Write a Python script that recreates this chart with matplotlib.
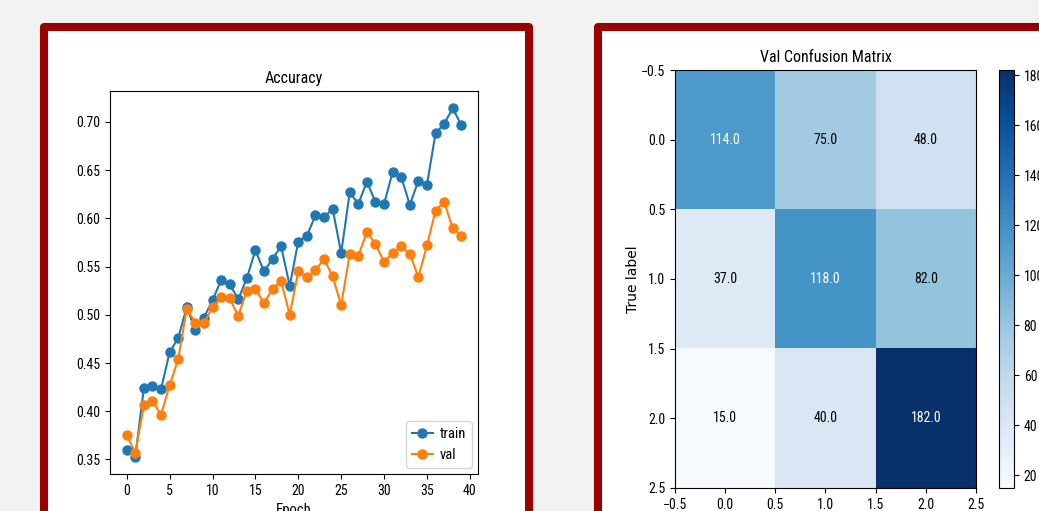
import matplotlib
matplotlib.use("Agg")
import matplotlib.pyplot as plt
from matplotlib import font_manager
from matplotlib.patches import Rectangle

# accuracy per epoch
epochs = list(range(40))
train_acc = [0.360, 0.353, 0.424, 0.426, 0.423, 0.461, 0.476, 0.508, 0.484, 0.497,
             0.515, 0.536, 0.532, 0.516, 0.538, 0.567, 0.545, 0.558, 0.571, 0.530,
             0.576, 0.582, 0.603, 0.601, 0.610, 0.564, 0.627, 0.615, 0.638, 0.617,
             0.615, 0.648, 0.643, 0.614, 0.639, 0.635, 0.688, 0.698, 0.714, 0.697]
val_acc = [0.375, 0.357, 0.406, 0.411, 0.396, 0.427, 0.454, 0.506, 0.492, 0.491,
           0.508, 0.518, 0.517, 0.499, 0.525, 0.527, 0.512, 0.527, 0.535, 0.500,
           0.545, 0.539, 0.546, 0.558, 0.540, 0.510, 0.563, 0.561, 0.586, 0.573,
           0.555, 0.564, 0.571, 0.563, 0.539, 0.572, 0.608, 0.617, 0.590, 0.582]
epoch_ticks = [0, 5, 10, 15, 20, 25, 30, 35, 40]

# validation confusion matrix (rows = true class)
conf_matrix = [[114, 75, 48],
               [37, 118, 82],
               [15, 40, 182]]
class_ticks = [-0.5, 0.0, 0.5, 1.0, 1.5, 2.0, 2.5]
cbar_ticks = [20, 40, 60, 80, 100, 120, 140, 160, 180]

W, H = 1039, 511


def box(x0, y0, x1, y1):
    # pixel box measured from top-left -> figure fraction [l, b, w, h]
    return [x0 / W, 1 - y1 / H, (x1 - x0) / W, (y1 - y0) / H]


# prefer a narrow face; fall back to the condensed DejaVu cut if present
fonts = font_manager.fontManager.ttflist
names = {f.name for f in fonts}
family = 'DejaVu Sans'
for cand in ['Liberation Sans Narrow', 'DejaVu Sans Condensed', 'Roboto Condensed',
             'Open Sans Condensed', 'Noto Sans Condensed']:
    if cand in names:
        family = cand
        break
if family == 'DejaVu Sans' and any(f.name == 'DejaVu Sans' and f.stretch == 'condensed'
                                   for f in fonts):
    plt.rcParams['font.stretch'] = 'condensed'
plt.rcParams['font.family'] = [family, 'DejaVu Sans']
plt.rcParams['font.size'] = 10

fig = plt.figure(figsize=(W / 100, H / 100), dpi=100, facecolor='#f2f2f2')

# framed cards behind each plot
for x0, x1 in [(44, 529), (598, 1070)]:
    l, b, w, h = box(x0, 27, x1, 560)
    fig.add_artist(Rectangle((l, b), w, h, transform=fig.transFigure,
                             facecolor='white', edgecolor='#9a0000',
                             linewidth=5.8, joinstyle='round', zorder=-5))

# accuracy curves
ax1 = fig.add_axes(box(110, 91, 478, 474))
ax1.plot(epochs, train_acc, marker='o', markersize=6.5, label='train')
ax1.plot(epochs, val_acc, marker='o', markersize=6.5, label='val')
ax1.set_xticks(epoch_ticks)
ax1.set_title('Accuracy', fontsize=11.5)
ax1.set_xlabel('Epoch', fontsize=10.5)
ax1.legend(loc='lower right', fontsize=10.5, handlelength=1.4,
           handletextpad=0.5, borderaxespad=0.4)

# confusion matrix
ax2 = fig.add_axes(box(675, 70, 976, 488))
im = ax2.imshow(conf_matrix, cmap='Blues', aspect='auto')
ax2.set_xticks(class_ticks)
ax2.set_yticks(class_ticks)
ax2.set_title('Val Confusion Matrix', fontsize=11.5)
ax2.set_ylabel('True label', family='DejaVu Sans', fontsize=10, labelpad=1)
thresh = max(max(r) for r in conf_matrix) / 2
for i, row in enumerate(conf_matrix):
    for j, v in enumerate(row):
        ax2.text(j, i, f'{v:.1f}', ha='center', va='center',
                 color='white' if v > thresh else 'black')

cax = fig.add_axes(box(999, 70, 1014, 488))
fig.colorbar(im, cax=cax, ticks=cbar_ticks)

fig.savefig('out.png', dpi=100, facecolor=fig.get_facecolor())
